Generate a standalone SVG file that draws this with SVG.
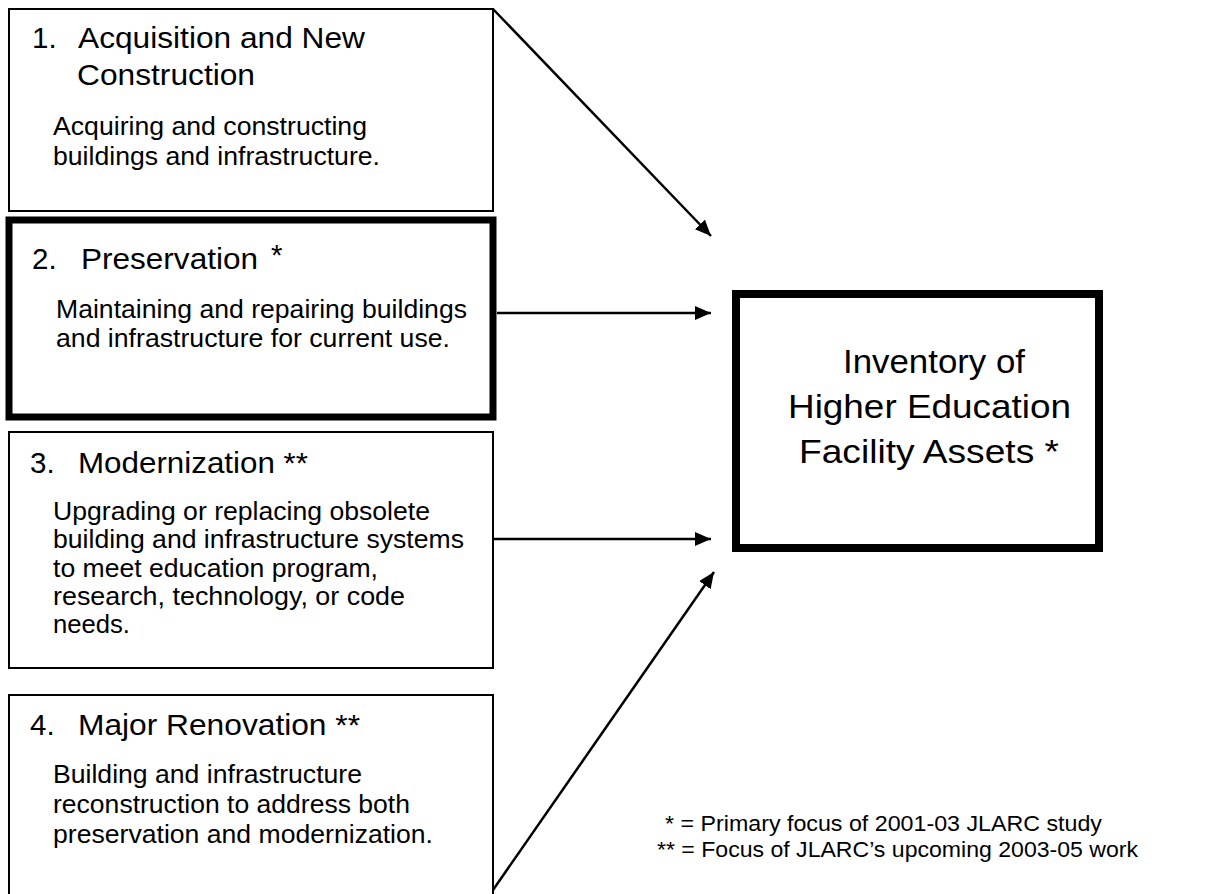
<svg xmlns="http://www.w3.org/2000/svg" width="1220" height="894" viewBox="0 0 1220 894">
<style>
text{font-family:"Liberation Sans",Arial,sans-serif;fill:#000}
.t{font-size:29.5px}
.d{font-size:25px}
.c{font-size:34px;text-anchor:middle}
.l{font-size:22px}
.box{fill:#fff;stroke:#000}
.thin{stroke-width:2}
.edge{stroke:#000;stroke-width:2.5;fill:none;marker-end:url(#ah)}
</style>
<defs>
<marker id="ah" markerUnits="userSpaceOnUse" markerWidth="18" markerHeight="16" refX="16" refY="7" orient="auto">
<path d="M0,0 L16,7 L0,14 Z" fill="#000"/>
</marker>
</defs>
<rect width="1220" height="894" fill="#fff"/>
<g id="connectors">
<line class="edge" x1="493" y1="9" x2="711" y2="236"/>
<line class="edge" x1="497" y1="313" x2="711" y2="313"/>
<line class="edge" x1="493" y1="539" x2="711" y2="539"/>
<line class="edge" x1="493" y1="890" x2="714" y2="572"/>
</g>
<g id="node1">
<rect class="box thin" x="9" y="9" width="484" height="202"/>
<text class="t" x="32" y="48">1.</text>
<text class="t" x="78" y="48" textLength="287" lengthAdjust="spacingAndGlyphs">Acquisition and New</text>
<text class="t" x="77" y="85" textLength="178" lengthAdjust="spacingAndGlyphs">Construction</text>
<text class="d" x="53" y="135" textLength="314" lengthAdjust="spacingAndGlyphs">Acquiring and constructing</text>
<text class="d" x="53" y="165" textLength="327" lengthAdjust="spacingAndGlyphs">buildings and infrastructure.</text>
</g>
<g id="node2">
<rect class="box" x="9" y="220" width="484" height="197" stroke-width="7"/>
<text class="t" x="32" y="269">2.</text>
<text class="t" x="81" y="269" textLength="177" lengthAdjust="spacingAndGlyphs">Preservation</text>
<text class="t" x="271" y="265">*</text>
<text class="d" x="56" y="318" textLength="411" lengthAdjust="spacingAndGlyphs">Maintaining and repairing buildings</text>
<text class="d" x="56" y="347" textLength="394" lengthAdjust="spacingAndGlyphs">and infrastructure for current use.</text>
</g>
<g id="node3">
<rect class="box thin" x="9" y="432" width="484" height="236"/>
<text class="t" x="30" y="473">3.</text>
<text class="t" x="78" y="473" textLength="230" lengthAdjust="spacingAndGlyphs">Modernization **</text>
<text class="d" x="53" y="520" textLength="377" lengthAdjust="spacingAndGlyphs">Upgrading or replacing obsolete</text>
<text class="d" x="53" y="548" textLength="411" lengthAdjust="spacingAndGlyphs">building and infrastructure systems</text>
<text class="d" x="53" y="577" textLength="325" lengthAdjust="spacingAndGlyphs">to meet education program,</text>
<text class="d" x="53" y="605" textLength="352" lengthAdjust="spacingAndGlyphs">research, technology, or code</text>
<text class="d" x="53" y="633" textLength="77" lengthAdjust="spacingAndGlyphs">needs.</text>
</g>
<g id="node4">
<rect class="box thin" x="9" y="695" width="484" height="230"/>
<text class="t" x="30" y="735">4.</text>
<text class="t" x="78" y="735" textLength="282" lengthAdjust="spacingAndGlyphs">Major Renovation **</text>
<text class="d" x="53" y="783" textLength="309" lengthAdjust="spacingAndGlyphs">Building and infrastructure</text>
<text class="d" x="53" y="813" textLength="357" lengthAdjust="spacingAndGlyphs">reconstruction to address both</text>
<text class="d" x="53" y="843" textLength="380" lengthAdjust="spacingAndGlyphs">preservation and modernization.</text>
</g>
<g id="inventory">
<rect class="box" x="736" y="294" width="363" height="254" stroke-width="8"/>
<text class="c" x="934" y="373" textLength="182" lengthAdjust="spacingAndGlyphs">Inventory of</text>
<text class="c" x="929.5" y="418" textLength="283" lengthAdjust="spacingAndGlyphs">Higher Education</text>
<text class="c" x="929" y="463" textLength="260" lengthAdjust="spacingAndGlyphs">Facility Assets *</text>
</g>
<g id="legend">
<text class="l" x="665" y="831" textLength="437" lengthAdjust="spacingAndGlyphs">* = Primary focus of 2001-03 JLARC study</text>
<text class="l" x="657" y="857" textLength="481" lengthAdjust="spacingAndGlyphs">** = Focus of JLARC’s upcoming 2003-05 work</text>
</g>
</svg>
